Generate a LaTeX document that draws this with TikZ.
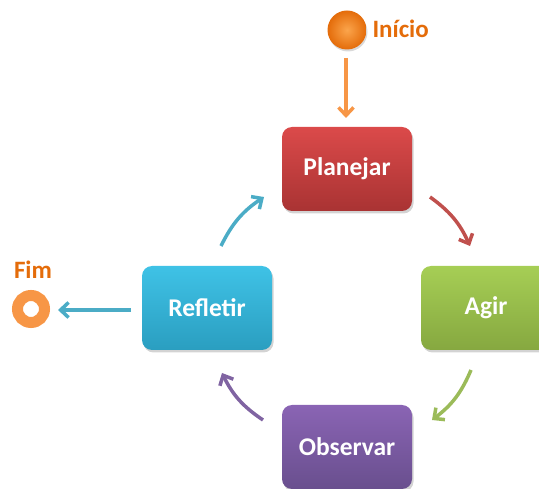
\documentclass[tikz,border=0pt]{standalone}
\usepackage{fontspec}
\setmainfont{Carlito}
\usetikzlibrary{arrows.meta,shadows}
\definecolor{cred}{HTML}{C0504D}
\definecolor{credtop}{HTML}{DB4A4A}
\definecolor{credbot}{HTML}{A93333}
\definecolor{cgreen}{HTML}{9BBB59}
\definecolor{cgreentop}{HTML}{A6CE55}
\definecolor{cgreenbot}{HTML}{86A840}
\definecolor{cpurple}{HTML}{8064A2}
\definecolor{cpurpletop}{HTML}{8A64B4}
\definecolor{cpurplebot}{HTML}{694F8E}
\definecolor{cblue}{HTML}{4BACC6}
\definecolor{cbluetop}{HTML}{3FC2E6}
\definecolor{cbluebot}{HTML}{2A9EC0}
\definecolor{corange}{HTML}{F79646}
\definecolor{corangelight}{HTML}{FBA54C}
\definecolor{corangedark}{HTML}{E46C0A}
\tikzset{
  x=1pt,y=-1pt,
  stepbox/.style={rounded corners=10pt, minimum width=130pt, minimum height=84pt,
    text=white, font=\bfseries\fontsize{25.5}{28}\selectfont,
    drop shadow={shadow xshift=1.5pt,shadow yshift=-2.5pt,opacity=0.35}},
  flow/.style={line width=3.5pt, -{Straight Barb[length=8pt,width=15pt,line width=3.5pt]}},
  lbl/.style={text=corangedark, font=\bfseries\fontsize{25}{28}\selectfont}
}
\begin{document}
\begin{tikzpicture}
\useasboundingbox (0,0) rectangle (539,489);
% nodes
\node[stepbox, top color=credtop, bottom color=credbot] (plan) at (347,169) {Planejar};
\node[stepbox, top color=cgreentop, bottom color=cgreenbot] (agir) at (486,308) {Agir};
\node[stepbox, top color=cpurpletop, bottom color=cpurplebot] (obs) at (347,447) {Observar};
\node[stepbox, top color=cbluetop, bottom color=cbluebot] (ref) at (207,308) {Refletir};
% start circle
\node[circle, minimum size=39pt, inner sep=0pt, inner color=corangelight, outer color=corangedark,
  drop shadow={shadow xshift=1pt,shadow yshift=-2pt,opacity=0.3}] (ini) at (347,30) {};
\node[lbl, anchor=west] (initxt) at (369,29) {Início};
% end ring
\node[circle, minimum size=27pt, inner sep=0pt, draw=corange, line width=11pt, fill=white,
  drop shadow={shadow xshift=1pt,shadow yshift=-2pt,opacity=0.3}] (fim) at (31,309) {};
\node[lbl] (fimtxt) at (33,270) {Fim};
% connector endpoints
\coordinate (a1s) at (346,58);  \coordinate (a1e) at (346,118);
\coordinate (a2s) at (430,197); \coordinate (a2e) at (470,246);
\coordinate (a3s) at (471,370); \coordinate (a3e) at (432,420);
\coordinate (a4s) at (263,420); \coordinate (a4e) at (222,373);
\coordinate (a5s) at (221,246); \coordinate (a5e) at (264,197);
\coordinate (a6s) at (131,310); \coordinate (a6e) at (58,310);
\draw[flow, corange] (a1s) -- (a1e);
\draw[flow, cred] (a2s) to[bend left=15] (a2e);
\draw[flow, cgreen] (a3s) to[bend left=15] (a3e);
\draw[flow, cpurple] (a4s) to[bend left=15] (a4e);
\draw[flow, cblue] (a5s) to[bend left=15] (a5e);
\draw[flow, cblue] (a6s) -- (a6e);
\end{tikzpicture}
\end{document}
